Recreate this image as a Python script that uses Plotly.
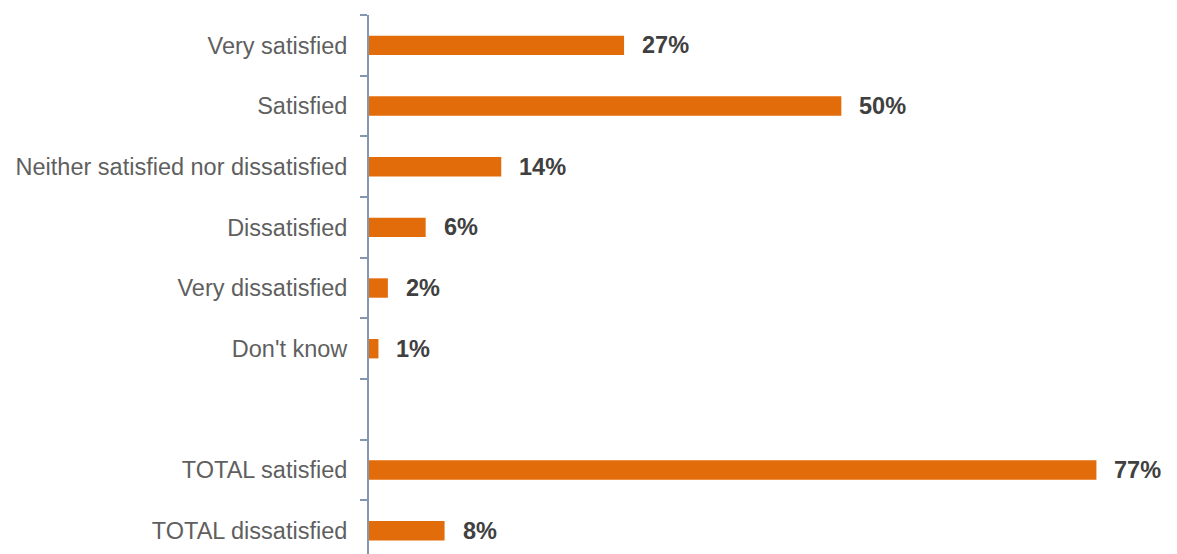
import plotly.graph_objects as go

categories = ["TOTAL dissatisfied", "TOTAL satisfied", " ", "Don't know", "Very dissatisfied",
              "Dissatisfied", "Neither satisfied nor dissatisfied", "Satisfied", "Very satisfied"]
values = [8, 77, None, 1, 2, 6, 14, 50, 27]
labels = ["8%", "77%", "", "1%", "2%", "6%", "14%", "50%", "27%"]

BAR = "#E36C0A"
AXIS = "#8497B0"

fig = go.Figure()
fig.add_trace(go.Bar(
    y=categories, x=values, orientation="h",
    marker=dict(color=BAR, line=dict(width=0)),
    width=0.32, hoverinfo="skip",
))

for c, v, t in zip(categories, values, labels):
    if v is None:
        continue
    fig.add_annotation(x=v, y=c, text=f"<b>{t}</b>", showarrow=False,
                       xanchor="left", yanchor="middle", xshift=16,
                       font=dict(family="Liberation Sans, Arial", size=23.5, color="#404040"))

fig.update_layout(
    width=1177, height=554,
    margin=dict(l=361, r=13, t=7, b=0),
    paper_bgcolor="white", plot_bgcolor="white",
    showlegend=False,
    font=dict(family="Liberation Sans, Arial", size=23.5, color="#595959"),
)
fig.update_xaxes(range=[0, 85], visible=False, showgrid=False, zeroline=False)
fig.update_yaxes(
    type="category", categoryorder="array", categoryarray=categories,
    range=[-0.516, 8.5],
    showline=True, linecolor=AXIS, linewidth=2,
    ticks="outside", ticklen=7, tickcolor=AXIS, tickwidth=2,
    tickson="boundaries", ticklabelstandoff=15,
    showgrid=False, zeroline=False,
    tickfont=dict(family="Liberation Sans, Arial", size=23.5, color="#5F5F5F"),
)

fig.write_html("out.html")
